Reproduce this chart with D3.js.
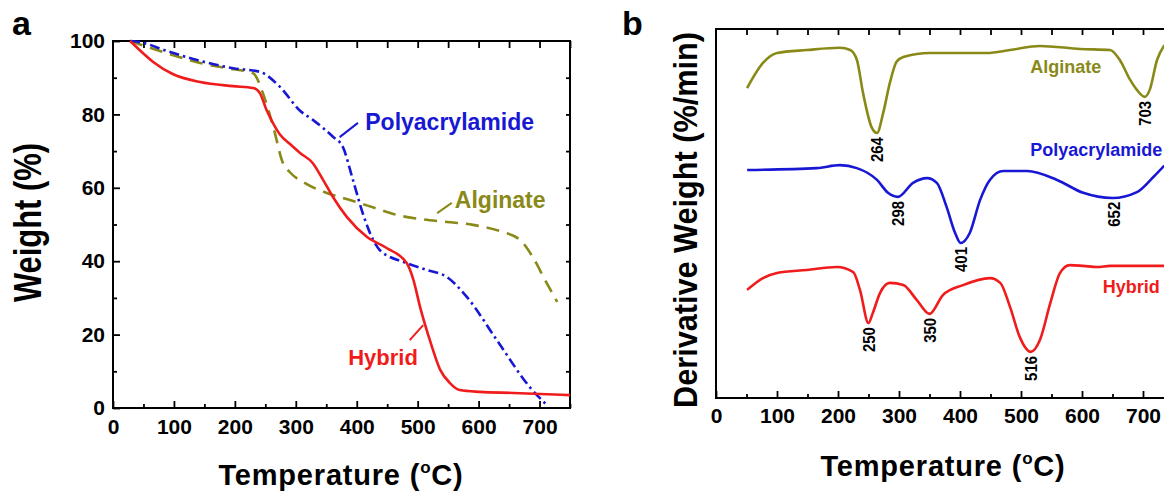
<!DOCTYPE html>
<html>
<head>
<meta charset="utf-8">
<script src="https://cdn.jsdelivr.net/npm/d3@7"></script>
<style>
  body { margin: 0; background: #fff; }
  svg { display: block; }
  text { font-family: "Liberation Sans", Arial, sans-serif; font-weight: bold; }
</style>
</head>
<body>
<div id="chart"></div>
<script>

// ---- panel a : TGA weight curves (temperature in C, weight in %)
const hybridT = [28, 44, 66, 98, 143, 197, 230, 241, 252, 266, 274, 290, 307, 328, 345, 361, 384, 417, 449, 482, 493, 504, 520, 537, 553, 569, 602, 657, 750];
const hybridW = [100, 97.5, 94.3, 91, 88.8, 87.7, 87.2, 85.8, 81.2, 76.6, 74.5, 72.0, 69.5, 66.7, 62.1, 57.5, 52, 46.6, 43.6, 39.5, 34.9, 27.5, 18.5, 10.4, 6.8, 4.9, 4.4, 4.1, 3.5];

const pamT = [28, 44, 88, 138, 197, 241, 274, 307, 328, 361, 377, 394, 410, 427, 438, 482, 515, 548, 581, 630, 684, 712];
const pamW = [100, 99.7, 97.3, 94.8, 92.6, 91.6, 87.5, 81, 78.5, 73.9, 71.2, 62, 53, 45.8, 43, 39.5, 37.6, 35.7, 30.2, 18.5, 5.7, 0.8];

const algT = [28, 88, 143, 187, 230, 246, 263, 279, 290, 318, 351, 394, 430, 466, 504, 548, 591, 635, 668, 689, 709, 729];
const algW = [100, 96.7, 94, 92.6, 91.2, 85.8, 76.6, 66.7, 64.3, 61, 58.6, 56.4, 54.5, 52.6, 51.5, 50.7, 49.9, 48.2, 45.8, 41.1, 34.9, 28.9];

// ---- panel b : DTG curves (arbitrary offset units)
const algDT = [51, 77, 100, 149, 203, 220, 231, 241, 255, 264, 274, 285, 296, 307, 351, 444, 482, 531, 597, 646, 662, 679, 690, 703, 711, 723, 735];
const algDV = [84, 90.8, 93.5, 94.3, 94.9, 94.3, 91.6, 82.7, 73.4, 71.8, 77.2, 85.4, 91.1, 92.4, 93.5, 93.5, 94.3, 95.4, 94.6, 94.3, 91.6, 86.2, 83.5, 81.6, 83.5, 91.6, 95.6];

const pamDT = [51, 165, 203, 231, 264, 282, 298, 323, 346, 362, 378, 392, 401, 416, 433, 449, 471, 510, 559, 602, 650, 690, 717, 735];
const pamDV = [61.8, 62.3, 63.1, 62.3, 59.1, 55.6, 54.5, 58.3, 59.6, 58.3, 51.8, 44.7, 42.0, 44.7, 53.7, 59.1, 61.5, 61.5, 59.1, 55.6, 54.2, 55.8, 59.9, 63];

const hybDT = [51, 77, 100, 149, 198, 225, 236, 250, 257, 269, 285, 307, 329, 350, 372, 405, 449, 466, 482, 498, 516, 531, 548, 564, 580, 602, 625, 646, 735];
const hybDV = [29.3, 32.5, 33.9, 34.7, 35.5, 34.1, 29.3, 20.3, 23.0, 28.5, 31.2, 30.6, 26.6, 22.8, 27.9, 30.6, 32.5, 31.2, 24.7, 16.5, 12.5, 15.7, 25.7, 33.9, 36.0, 35.8, 35.5, 35.8, 35.8];

const algPeaks = [264, 703];
const pamPeaks = [298, 401, 652];
const hybPeaks = [250, 350, 516];

// tick values
const xMajor = [0, 100, 200, 300, 400, 500, 600, 700];
const xMinor = [50, 150, 250, 350, 450, 550, 650, 750];
const xTop = d3.range(50, 751, 50);
const yMajor = [0, 20, 40, 60, 80, 100];
const yMinor = [10, 30, 50, 70, 90];
const yRight = d3.range(10, 100, 10);

const red = "#f01c1c", blue = "#1818d4", olive = "#898918";

let svg = d3.select("#chart").append("svg")
  .attr("width", 1164).attr("height", 494);

// scales
let xa = d3.scaleLinear().domain([0, 750]).range([113, 570]);
let ya = d3.scaleLinear().domain([0, 100]).range([408, 41]);
let xb = d3.scaleLinear().domain([0, 750]).range([716, 1173.5]);
let yb = d3.scaleLinear().domain([0, 100]).range([398, 29]);

function styleAxis(g, size) {
  g.select(".domain").remove();
  g.selectAll(".tick line").attr("stroke-width", 1.8);
  g.selectAll("text").style("font-size", size + "px")
    .style("font-family", '"Liberation Sans", Arial, sans-serif')
    .style("font-weight", "bold").attr("fill", "#000");
}

// ===== panel a axes
svg.append("g").attr("transform", "translate(0,408)")
  .call(d3.axisBottom(xa).tickValues(xMajor).tickSize(-7).tickSizeOuter(0).tickPadding(11))
  .call(styleAxis, 21);
svg.append("g").attr("transform", "translate(0,408)")
  .call(d3.axisBottom(xa).tickValues(xMinor).tickSize(-4).tickSizeOuter(0).tickFormat(""))
  .call(styleAxis, 21);
svg.append("g").attr("transform", "translate(0,41)")
  .call(d3.axisTop(xa).tickValues(xTop).tickSize(-7).tickSizeOuter(0).tickFormat(""))
  .call(styleAxis, 21);
svg.append("g").attr("transform", "translate(113,0)")
  .call(d3.axisLeft(ya).tickValues(yMajor).tickSize(-7).tickSizeOuter(0).tickPadding(8))
  .call(styleAxis, 21);
svg.append("g").attr("transform", "translate(113,0)")
  .call(d3.axisLeft(ya).tickValues(yMinor).tickSize(-4).tickSizeOuter(0).tickFormat(""))
  .call(styleAxis, 21);
svg.append("g").attr("transform", "translate(570,0)")
  .call(d3.axisRight(ya).tickValues(yRight).tickSize(-4).tickSizeOuter(0).tickFormat(""))
  .call(styleAxis, 21);

svg.append("rect")
  .attr("x", xa(0)).attr("y", ya(100))
  .attr("width", xa(750) - xa(0)).attr("height", ya(0) - ya(100))
  .attr("fill", "none").attr("stroke", "#000").attr("stroke-width", 2);

// ===== panel b axes
svg.append("g").attr("transform", "translate(0,398)")
  .call(d3.axisBottom(xb).tickValues(xMajor).tickSize(-7).tickSizeOuter(0).tickPadding(10))
  .call(styleAxis, 21);
svg.append("g").attr("transform", "translate(0,398)")
  .call(d3.axisBottom(xb).tickValues(xMinor).tickSize(-4).tickSizeOuter(0).tickFormat(""))
  .call(styleAxis, 21);
svg.append("g").attr("transform", "translate(0,29)")
  .call(d3.axisTop(xb).tickValues(xTop).tickSize(-6).tickSizeOuter(0).tickFormat(""))
  .call(styleAxis, 21);

svg.append("rect")
  .attr("x", xb(0)).attr("y", yb(100))
  .attr("width", xb(750) - xb(0)).attr("height", yb(0) - yb(100))
  .attr("fill", "none").attr("stroke", "#000").attr("stroke-width", 2);

// ===== curves
let lineA = d3.line().x(d => xa(d[0])).y(d => ya(d[1])).curve(d3.curveMonotoneX);
let lineB = d3.line().x(d => xb(d[0])).y(d => yb(d[1])).curve(d3.curveMonotoneX);

svg.append("path").attr("d", lineA(d3.zip(algT, algW)))
  .attr("fill", "none").attr("stroke", olive).attr("stroke-width", 2.6)
  .attr("stroke-dasharray", "13,8");
svg.append("path").attr("d", lineA(d3.zip(pamT, pamW)))
  .attr("fill", "none").attr("stroke", blue).attr("stroke-width", 2.6)
  .attr("stroke-dasharray", "10,4,2.5,4");
svg.append("path").attr("d", lineA(d3.zip(hybridT, hybridW)))
  .attr("fill", "none").attr("stroke", red).attr("stroke-width", 2.6);

svg.append("path").attr("d", lineB(d3.zip(algDT, algDV)))
  .attr("fill", "none").attr("stroke", olive).attr("stroke-width", 2.6);
svg.append("path").attr("d", lineB(d3.zip(pamDT, pamDV)))
  .attr("fill", "none").attr("stroke", blue).attr("stroke-width", 2.6);
svg.append("path").attr("d", lineB(d3.zip(hybDT, hybDV)))
  .attr("fill", "none").attr("stroke", red).attr("stroke-width", 2.6);

// ===== panel a annotations
function leader(x1, y1, x2, y2, color) {
  svg.append("line")
    .attr("x1", xa(x1)).attr("y1", ya(y1)).attr("x2", xa(x2)).attr("y2", ya(y2))
    .attr("stroke", color).attr("stroke-width", 2);
}
leader(402, 77.7, 372, 73.8, blue);
leader(556, 55.9, 532, 53.1, olive);
leader(487, 18.5, 509, 22.6, red);

svg.append("text").attr("x", xa(414)).attr("y", ya(75.7)).text("Polyacrylamide")
  .attr("fill", blue).style("font-size", "23px");
svg.append("text").attr("x", xa(561)).attr("y", ya(54.5)).text("Alginate")
  .attr("fill", olive).style("font-size", "23px");
svg.append("text").attr("x", xa(386)).attr("y", ya(11.7)).text("Hybrid")
  .attr("fill", red).style("font-size", "22px");

// ===== panel b annotations
svg.append("text").attr("x", xb(515)).attr("y", yb(88.1)).text("Alginate")
  .attr("fill", olive).style("font-size", "18px");
svg.append("text").attr("x", xb(515)).attr("y", yb(65.6)).text("Polyacrylamide")
  .attr("fill", blue).style("font-size", "18px");
svg.append("text").attr("x", xb(634)).attr("y", yb(28.5)).text("Hybrid")
  .attr("fill", red).style("font-size", "18px");

// peak temperatures, written vertically just under each minimum
function valueAt(ts, vs, t) {
  let i = d3.bisectLeft(ts, t);
  if (i <= 0) return vs[0];
  if (i >= ts.length) return vs[vs.length - 1];
  let f = (t - ts[i - 1]) / (ts[i] - ts[i - 1]);
  return vs[i - 1] + f * (vs[i] - vs[i - 1]);
}
function peakLabels(peaks, ts, vs) {
  svg.selectAll(null).data(peaks).enter().append("text")
    .attr("transform", d => "translate(" + (xb(d) + 6) + "," + (yb(valueAt(ts, vs, d)) + 4) + ") rotate(-90)")
    .attr("text-anchor", "end")
    .attr("textLength", 25).attr("lengthAdjust", "spacingAndGlyphs")
    .style("font-size", "17px")
    .text(d => d);
}
peakLabels(algPeaks, algDT, algDV);
peakLabels(pamPeaks, pamDT, pamDV);
peakLabels(hybPeaks, hybDT, hybDV);

// ===== titles
function xTitle(cx, y) {
  let t = svg.append("text").attr("x", cx).attr("y", y)
    .attr("text-anchor", "middle").style("font-size", "29px").style("letter-spacing", "0.8px");
  t.append("tspan").text("Temperature (");
  t.append("tspan").attr("dy", -12).style("font-size", "17px").text("o");
  t.append("tspan").attr("dy", 12).text("C)");
}
xTitle(341, 485);
xTitle(943, 476);

svg.append("text").attr("transform", "translate(41,222.5) rotate(-90)")
  .attr("text-anchor", "middle").style("font-size", "38px")
  .attr("textLength", 159).attr("lengthAdjust", "spacingAndGlyphs")
  .text("Weight (%)");
svg.append("text").attr("transform", "translate(697,220) rotate(-90)")
  .attr("text-anchor", "middle").style("font-size", "34px")
  .attr("textLength", 376).attr("lengthAdjust", "spacingAndGlyphs")
  .text("Derivative Weight (%/min)");

svg.append("text").attr("x", 12).attr("y", 35).style("font-size", "34px").text("a");
svg.append("text").attr("x", 622).attr("y", 35).style("font-size", "34px").text("b");

</script>
</body>
</html>
